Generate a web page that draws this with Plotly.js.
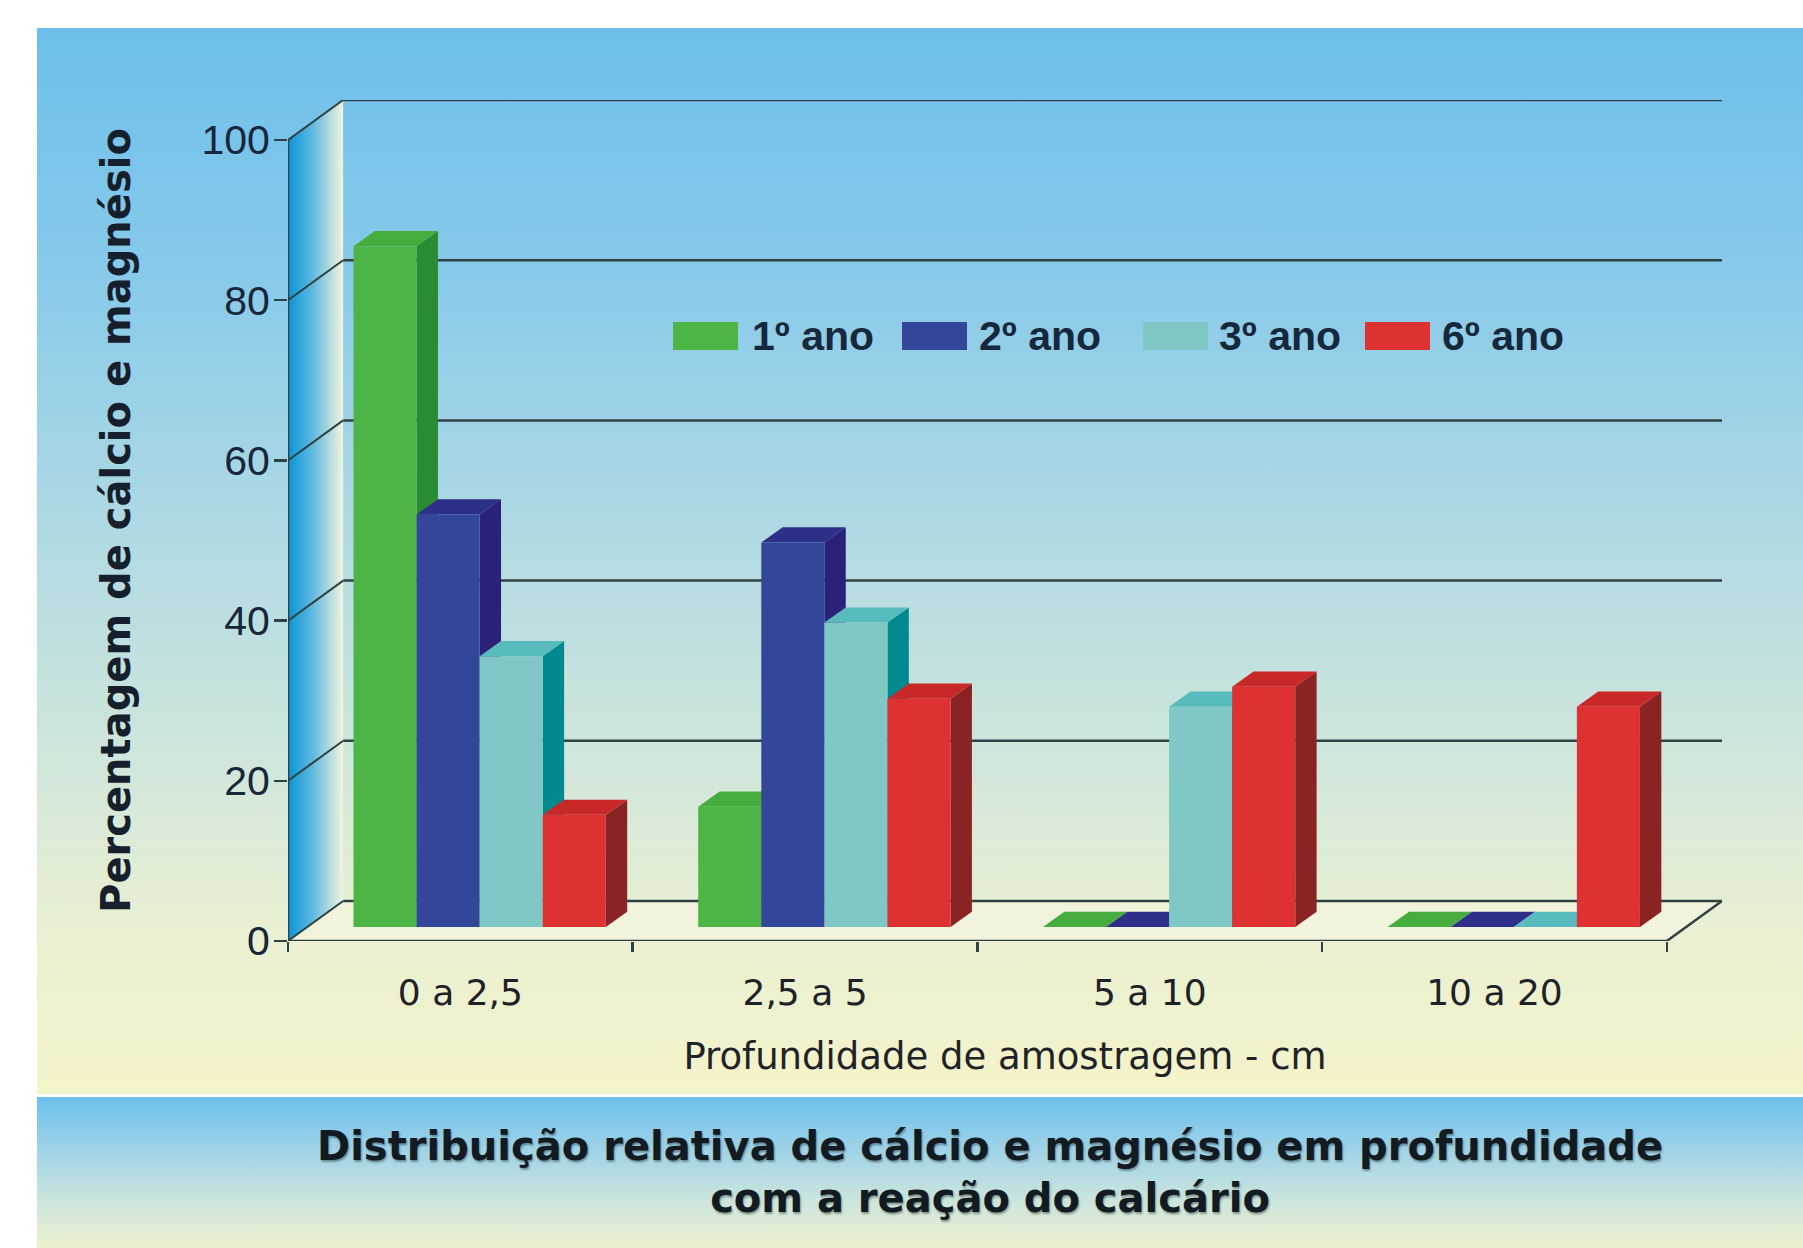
<!DOCTYPE html>
<html>
<head>
<meta charset="utf-8">
<script src="https://cdn.plot.ly/plotly-3.0.1.min.js"></script>
<style>
  html, body { margin: 0; padding: 0; background: #ffffff; overflow: hidden; }
  #wrap { position: relative; width: 1803px; height: 1248px; }
  #panel1 { position: absolute; left: 37px; top: 28px; width: 1766px; height: 1066px;
    background: linear-gradient(to bottom, #6dbfea 0%, #86c9ea 22%, #acd8e4 45%, #cfe6db 68%, #eaf0d2 85%, #f5f3c9 100%); }
  #panel2 { position: absolute; left: 37px; top: 1097px; width: 1766px; height: 151px;
    background: linear-gradient(to bottom, #6cc0ec 0%, #9fd3e8 35%, #cde6dc 70%, #eef1cd 100%); }
  #chart { position: absolute; left: 0; top: 0; width: 1803px; height: 1248px; }
</style>
</head>
<body>
<div id="wrap">
  <div id="panel1"></div>
  <div id="panel2"></div>
  <div id="chart"></div>
</div>
<script>
// ---- data ----
const categories = ['0 a 2,5', '2,5 a 5', '5 a 10', '10 a 20'];
const seriesNames = ['1º ano', '2º ano', '3º ano', '6º ano'];
const ano1 = [85, 15, 0, 0];
const ano2 = [51.5, 48, 0, 0];
const ano3 = [33.8, 38, 27.5, 0];
const ano6 = [14, 28.5, 30, 27.5];
const yTicks = [0, 20, 40, 60, 80, 100];

const seriesValues = [ano1, ano2, ano3, ano6];
const frontColors = ['#4db546', '#34469a', '#7fc8c6', '#de3232'];
const sideColors  = ['#2a8c32', '#2b2178', '#008a90', '#8a2424'];
const topColors   = ['#44ad3e', '#2d2f88', '#58bcbf', '#c92828'];

// ---- 3D geometry constants (depth of the chart box, in axis units) ----
const DX = 0.16;   // depth offset along x (category units)
const DY = 5;      // depth offset along y (value units)
const F0 = 0.35;   // depth fraction where the bar front faces sit
const BDX = 0.062; // bar depth along x
const BDY = 1.9;   // bar depth along y
const W = 0.183;   // bar width
const SX = F0 * DX, B0 = F0 * DY;
const nCat = categories.length;
const xMin = -0.5, xMax = nCat - 0.5;
const yMax = yTicks[yTicks.length - 1];

const lineCol = '#2f4243';
const shapes = [];
// floor
shapes.push({type: 'path', xref: 'x', yref: 'y', layer: 'below',
  path: `M${xMin},0 L${xMax},0 L${xMax + DX},${DY} L${xMin + DX},${DY} Z`,
  fillcolor: '#f1f3dc', line: {width: 0}});
// back wall gridlines
yTicks.forEach(v => shapes.push({type: 'line', xref: 'x', yref: 'y', layer: 'below',
  x0: xMin + DX, x1: xMax + DX, y0: v + DY, y1: v + DY, line: {color: lineCol, width: 2.5}}));
// left wall diagonals
yTicks.forEach(v => shapes.push({type: 'line', xref: 'x', yref: 'y', layer: 'above',
  x0: xMin, x1: xMin + DX, y0: v, y1: v + DY, line: {color: lineCol, width: 2}}));
// right floor edge
shapes.push({type: 'line', xref: 'x', yref: 'y', layer: 'below',
  x0: xMax, x1: xMax + DX, y0: 0, y1: DY, line: {color: lineCol, width: 2.5}});
// front axis lines
shapes.push({type: 'line', xref: 'x', yref: 'y', layer: 'above',
  x0: xMin, x1: xMax, y0: 0, y1: 0, line: {color: lineCol, width: 2.5}});
shapes.push({type: 'line', xref: 'x', yref: 'y', layer: 'above',
  x0: xMin, x1: xMin, y0: 0, y1: yMax, line: {color: lineCol, width: 2.5}});

// bar side and top faces (drawn below the bar front faces, left to right)
for (let c = 0; c < nCat; c++) {
  for (let s = 0; s < seriesValues.length; s++) {
    const v = seriesValues[s][c];
    const xl = c - 2 * W + s * W + SX;
    const xr = xl + W;
    const yb = B0, yt = B0 + v;
    if (v > 0) {
      shapes.push({type: 'path', xref: 'x', yref: 'y', layer: 'below',
        path: `M${xr},${yb} L${xr + BDX},${yb + BDY} L${xr + BDX},${yt + BDY} L${xr},${yt} Z`,
        fillcolor: sideColors[s], line: {width: 0}});
    }
    shapes.push({type: 'path', xref: 'x', yref: 'y', layer: 'below',
      path: `M${xl},${yt} L${xl + BDX},${yt + BDY} L${xr + BDX},${yt + BDY} L${xr},${yt} Z`,
      fillcolor: topColors[s], line: {width: 0}});
  }
}

// ---- traces ----
const traces = [];
// left wall with horizontal gradient
traces.push({type: 'scatter', mode: 'lines', x: [xMin, xMin, xMin + DX, xMin + DX, xMin],
  y: [0, yMax, yMax + DY, DY, 0], fill: 'toself',
  fillgradient: {type: 'horizontal', colorscale: [[0, '#0794d6'], [0.45, '#62b9e0'], [1, '#f2f5dd']]},
  line: {width: 0}, hoverinfo: 'skip', showlegend: false});
seriesValues.forEach((vals, s) => traces.push({
  type: 'bar', name: seriesNames[s], x: categories.map((_, i) => i), y: vals,
  base: B0, width: W, offset: -2 * W + s * W + SX,
  marker: {color: frontColors[s], line: {width: 0}}, showlegend: false
}));

// ---- custom legend (large swatches) ----
const PX0 = 288, PW = 1434, PY1 = 941, PH = 841;
const px = p => (p - PX0) / PW, py = p => (PY1 - p) / PH;
const swatchLeft = [673, 902, 1143, 1365];
const textLeft = [750, 977, 1217, 1440];
const annotations = [];
seriesNames.forEach((n, s) => {
  shapes.push({type: 'rect', xref: 'paper', yref: 'paper', layer: 'above',
    x0: px(swatchLeft[s]), x1: px(swatchLeft[s] + 65), y0: py(350), y1: py(322),
    fillcolor: frontColors[s], line: {width: 0}});
  annotations.push({xref: 'paper', yref: 'paper', x: px(textLeft[s]), y: py(336),
    xanchor: 'left', yanchor: 'middle', showarrow: false, text: n,
    font: {family: 'Liberation Sans, Arial, sans-serif', size: 41, weight: 'bold', color: '#16283c'}});
});

const layout = {
  width: 1803, height: 1248, autosize: false,
  margin: {l: 288, r: 81, t: 100, b: 307, pad: 0},
  paper_bgcolor: 'rgba(0,0,0,0)', plot_bgcolor: 'rgba(0,0,0,0)',
  barmode: 'overlay', showlegend: false,
  title: {text: 'Distribuição relativa de cálcio e magnésio em profundidade<br>com a reação do calcário',
    xref: 'container', yref: 'container', x: 990 / 1803, y: 1 - 1160 / 1248,
    xanchor: 'center', yanchor: 'middle',
    font: {family: 'DejaVu Sans, sans-serif', size: 40, weight: 'bold', color: '#121a22',
      shadow: '1px 2px 2px rgba(0,0,0,0.35)'}},
  xaxis: {type: 'linear', range: [xMin, xMax + DX], fixedrange: true,
    tickmode: 'array', tickvals: categories.map((_, i) => i), ticktext: categories,
    ticks: '', showgrid: false, zeroline: false, showline: false,
    ticklabelstandoff: 27,
    minor: {tickmode: 'array', tickvals: categories.map((_, i) => i - 0.5).concat([xMax]),
      ticks: 'outside', ticklen: 10, tickwidth: 2.5, tickcolor: lineCol, showgrid: false},
    tickfont: {family: 'DejaVu Sans, sans-serif', size: 36, color: '#1d2228'},
    title: {text: 'Profundidade de amostragem - cm', standoff: 31,
      font: {family: 'DejaVu Sans, sans-serif', size: 37, color: '#1f2327'}}},
  yaxis: {type: 'linear', range: [0, yMax + DY], fixedrange: true,
    tickmode: 'array', tickvals: yTicks, ticks: 'outside', ticklen: 13, tickwidth: 2.5,
    tickcolor: lineCol, showgrid: false, zeroline: false, showline: false,
    ticklabelstandoff: -4,
    tickfont: {family: 'Liberation Sans, Arial, sans-serif', size: 41, color: '#17263a'},
    title: {text: 'Percentagem de cálcio e magnésio', standoff: 58,
      font: {family: 'DejaVu Sans, sans-serif', size: 40, weight: 'bold', color: '#16202c'}}},
  shapes: shapes, annotations: annotations
};

Plotly.newPlot('chart', traces, layout, {displayModeBar: false, staticPlot: true});
</script>
</body>
</html>
